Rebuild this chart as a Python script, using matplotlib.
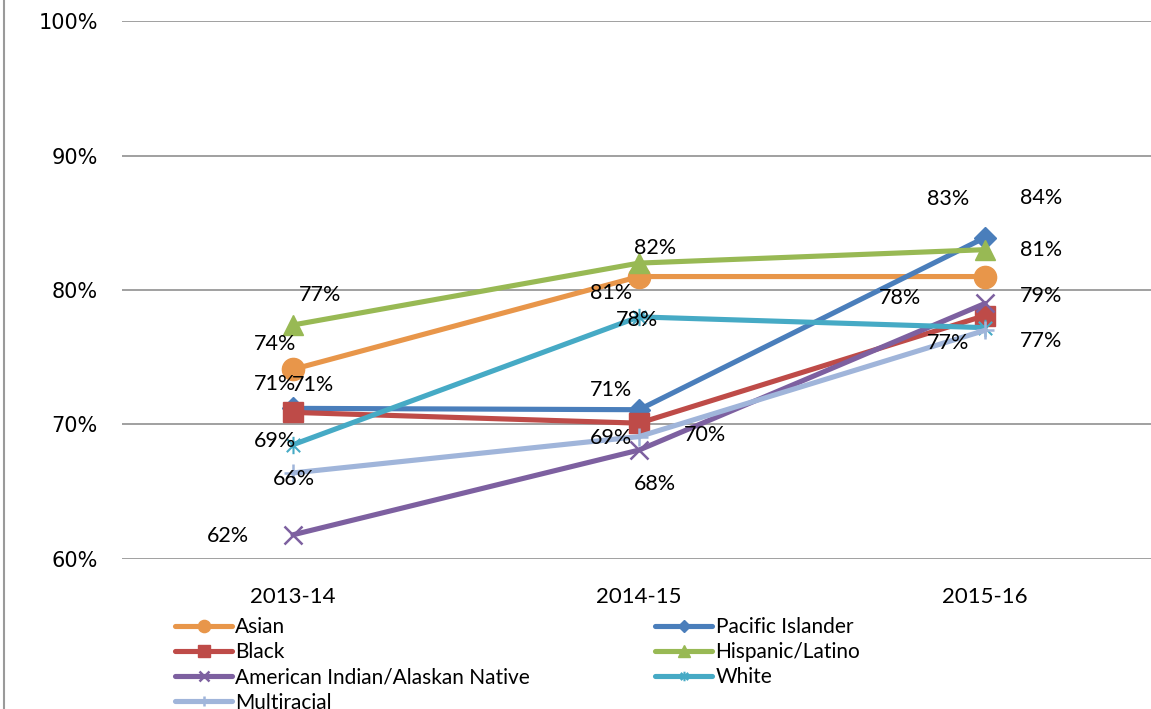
import matplotlib
matplotlib.use("Agg")
import matplotlib.pyplot as plt
from matplotlib.path import Path
from matplotlib.lines import Line2D

# ---------------- data ----------------
years = ["2013-14", "2014-15", "2015-16"]
series_names = ["Asian", "Pacific Islander", "Black", "Hispanic/Latino",
                "American Indian/Alaskan Native", "White", "Multiracial"]
asian = [74.1, 81.0, 81.0]
pacific_islander = [71.2, 71.1, 83.9]
black = [70.9, 70.1, 78.1]
hispanic_latino = [77.4, 82.0, 83.0]
american_indian = [61.8, 68.1, 79.0]
white = [68.5, 78.0, 77.2]
multiracial = [66.4, 69.1, 77.0]
y_ticks = [60, 70, 80, 90, 100]

values = [asian, pacific_islander, black, hispanic_latino,
          american_indian, white, multiracial]

# ---------------- styles ----------------
star = Path([(-1, -1), (1, 1), (-1, 1), (1, -1), (0, -1.3), (0, 1.3)],
            [Path.MOVETO, Path.LINETO, Path.MOVETO, Path.LINETO,
             Path.MOVETO, Path.LINETO])
colors = ["#E8964A", "#4A7EBB", "#BE4B48", "#98B954", "#7D60A0", "#46AAC5", "#A0B5DA"]
markers = ["o", "D", "s", "^", "x", star, "+"]
msizes = [16, 11, 14.5, 15, 13, 12.5, 13]
mews = [1, 1, 1, 1, 1.8, 1.5, 1.8]

# label offsets in pixels (dx right, dy down) for each series at each year
label_offsets = [
    [(-18, -25), (-28, 16), (56, -27)],   # Asian
    [(20, -23), (-28, -20), (56, -40)],   # Pacific Islander
    [(-18, -28), (66, 12), (-85, -18)],   # Black
    [(27, -30), (16, -15), (-37, -51)],   # Hispanic
    [(-65, 1), (16, 34), (56, -7)],       # American Indian
    [(-18, -4), (-2, 3), (56, 13)],       # White
    [(1, 6), (-28, 1), (-37, 13)],        # Multiracial
]

W, H = 1151, 709
fig = plt.figure(figsize=(W / 100, H / 100), dpi=100)
fig.patch.set_facecolor("white")

# axes geometry (pixels)
ax_left, ax_right = 122, 1151
y100, y60 = 21, 559
ax = fig.add_axes([ax_left / W, (H - y60) / H, (ax_right - ax_left) / W, (y60 - y100) / H])
x_first, x_spacing = 293, 346
ax.set_xlim(-(x_first - ax_left) / x_spacing, (ax_right - x_first) / x_spacing)
ax.set_ylim(60, 100)

for spine in ax.spines.values():
    spine.set_visible(False)
ax.set_yticks(y_ticks)
ax.set_yticklabels([f"{t}%" for t in y_ticks], fontfamily="DejaVu Sans", fontsize=15)
ax.set_xticks(range(len(years)))
ax.set_xticklabels(years, fontfamily="Lato", fontsize=16)
ax.tick_params(axis="y", length=0, pad=17.5)
ax.tick_params(axis="x", length=0, pad=20)
ax.grid(axis="y", color="#A0A0A0", linewidth=1.4)
ax.set_axisbelow(True)

xs = list(range(len(years)))
for name, vals, c, m, ms, mew, offs in zip(series_names, values, colors, markers,
                                           msizes, mews, label_offsets):
    ax.plot(xs, vals, color=c, linewidth=3.7, marker=m, markersize=ms,
            markerfacecolor=c, markeredgecolor=c, markeredgewidth=mew,
            label=name, clip_on=False, solid_capstyle="round")
    for x, v, (dx, dy) in zip(xs, vals, offs):
        ax.annotate(f"{int(v + 0.5)}%", (x, v), xytext=(dx, -dy),
                    textcoords="offset pixels", ha="center", va="center",
                    fontfamily="Lato", fontsize=15.5, color="black")

# legend (column-wise fill: col 1 = Asian, Black, AmInd, Multiracial)
order = [0, 2, 4, 6, 1, 3, 5]
leg_handles = []
for i in order:
    leg_handles.append(Line2D([], [], color=colors[i], linewidth=3.7, marker=markers[i],
                              markersize=msizes[i] * 0.55, markerfacecolor=colors[i],
                              markeredgecolor=colors[i], markeredgewidth=mews[i],
                              solid_capstyle="round"))
leg = fig.legend(leg_handles, [series_names[i] for i in order], ncol=2,
                 loc="upper left", bbox_to_anchor=(175 / W, 1 - 617 / H),
                 frameon=False, borderpad=0, borderaxespad=0,
                 handlelength=2.75, handletextpad=0.15, labelspacing=0.25,
                 columnspacing=6.0, prop={"family": "Lato", "size": 15})

# left border of chart area
fig.add_artist(Line2D([3.5 / W, 3.5 / W], [0, 1], transform=fig.transFigure,
                      color="#9A9A9A", linewidth=1.5))

fig.savefig("out.png", dpi=100, facecolor="white")
